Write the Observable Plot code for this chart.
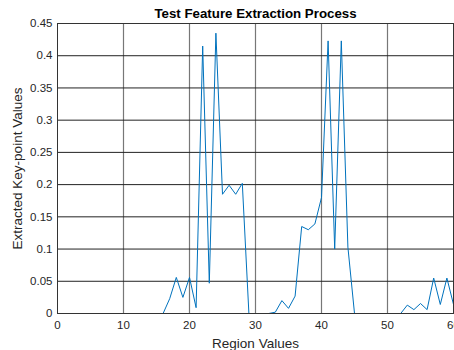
<!DOCTYPE html>
<html>
<head>
<meta charset="utf-8">
<script src="https://cdn.jsdelivr.net/npm/d3@7"></script>
<script src="https://cdn.jsdelivr.net/npm/@observablehq/plot@0.6"></script>
<style>
  html, body { margin: 0; padding: 0; background: #fff; }
  #chart { width: 454px; height: 350px; }
</style>
</head>
<body>
<div id="chart"></div>
<script>
const title = "Test Feature Extraction Process";
const xLabel = "Region Values";
const yLabel = "Extracted Key-point Values";

const regions = [1,2,3,4,5,6,7,8,9,10,11,12,13,14,15,16,17,18,19,20,
  21,22,23,24,25,26,27,28,29,30,31,32,33,34,35,36,37,38,39,40,
  41,42,43,44,45,46,47,48,49,50,51,52,53,54,55,56,57,58,59,60];
const values = [0,0,0,0,0,0,0,0,0,0,0,0,0,0,0,0,0.023,0.056,0.025,0.056,
  0.009,0.415,0.047,0.435,0.185,0.199,0.185,0.202,0,0,0,0,0.002,0.02,0.008,0.027,0.135,0.13,0.139,0.18,
  0.423,0.1,0.423,0.103,0,0,0,0,0,0,0,0,0.013,0.006,0.0155,0.006,0.055,0.014,0.055,0.014];

const xTicks = [0,10,20,30,40,50,60];
const yTicks = [0,0.05,0.1,0.15,0.2,0.25,0.3,0.35,0.4,0.45];
const yTickLabels = ["0","0.05","0.1","0.15","0.2","0.25","0.3","0.35","0.4","0.45"];

const data = regions.map((r, i) => ({x: r, y: values[i]}));

const chart = Plot.plot({
  width: 454,
  height: 350,
  marginLeft: 57,
  marginRight: 1,
  marginTop: 23,
  marginBottom: 37,
  style: {fontFamily: "'Liberation Sans', Arial, sans-serif", fontSize: "11px", color: "#262626", background: "#fff"},
  x: {domain: [0, 60]},
  y: {domain: [0, 0.45]},
  marks: [
    Plot.gridX(xTicks.slice(1, -1), {stroke: "#777", strokeOpacity: 1, strokeWidth: 1.2}),
    Plot.gridY(yTicks.slice(1, -1), {stroke: "#222", strokeOpacity: 1, strokeWidth: 1}),
    Plot.frame({stroke: "#333", strokeWidth: 1}),
    Plot.line(data, {x: "x", y: "y", stroke: "#0072BD", strokeWidth: 1, clip: true}),
    Plot.axisX({ticks: xTicks, tickSize: 0, tickPadding: 7, fontSize: 11.5, label: null}),
    Plot.axisY({ticks: yTicks, tickFormat: (d, i) => yTickLabels[i], tickSize: 0, tickPadding: 5, fontSize: 11.5, label: null}),
    Plot.text([xLabel], {frameAnchor: "bottom", lineAnchor: "middle", dy: 30, fontSize: 13.5, fill: "#262626"}),
    Plot.text([yLabel], {frameAnchor: "left", textAnchor: "middle", lineAnchor: "middle", dx: -40, rotate: -90, fontSize: 13.5, fill: "#262626"}),
    Plot.text([title], {frameAnchor: "top", lineAnchor: "middle", dy: -10, fontWeight: "bold", fontSize: 13.3, fill: "#000"})
  ]
});
document.getElementById("chart").appendChild(chart);
</script>
</body>
</html>
